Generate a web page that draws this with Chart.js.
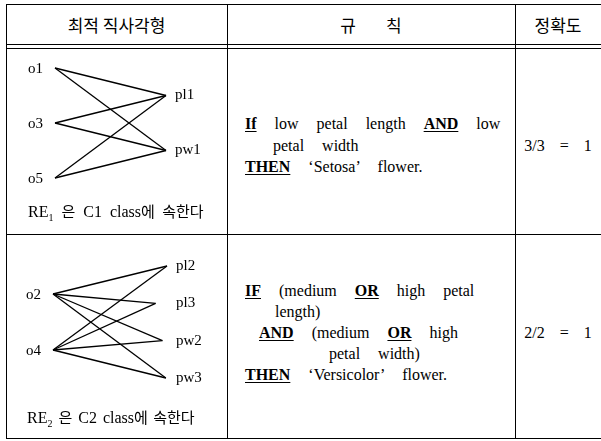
<!DOCTYPE html>
<html>
<head>
<meta charset="utf-8">
<script src="https://cdn.jsdelivr.net/npm/chart.js@4"></script>
<style>
  body { margin: 0; width: 601px; height: 441px; background: #fff; position: relative; overflow: hidden;
         font-family: "Liberation Serif", "Times New Roman", Times, "DejaVu Serif", serif; color: #000; }
  .line { position: absolute; background: #000; }
  .txt { position: absolute; white-space: pre; font-size: 16px; line-height: 20px; }
  .rule { word-spacing: 14px; }
  .k { font-family: "Noto Sans CJK KR", sans-serif; }
  .head { position: absolute; top: 14px; height: 22px; line-height: 22px; text-align: center;
          font-family: "Noto Sans CJK KR", sans-serif; font-size: 17px; }
  .kw { font-weight: bold; text-decoration: underline; text-underline-offset: 2px; }
  .acc { position: absolute; left: 515px; width: 86px; text-align: center; font-size: 16px; line-height: 20px; word-spacing: 11px; }
  canvas { position: absolute; }
</style>
</head>
<body>

<!-- table grid -->
<div class="line" style="left:6px;top:4px;width:595px;height:1px"></div>
<div class="line" style="left:6px;top:44px;width:595px;height:1px"></div>
<div class="line" style="left:6px;top:48px;width:595px;height:1px"></div>
<div class="line" style="left:6px;top:234px;width:595px;height:1px"></div>
<div class="line" style="left:6px;top:438px;width:595px;height:1px"></div>
<div class="line" style="left:6px;top:4px;width:1px;height:435px"></div>
<div class="line" style="left:227px;top:4px;width:1px;height:435px"></div>
<div class="line" style="left:515px;top:4px;width:1px;height:435px"></div>

<!-- header -->
<div class="head" style="left:6px;width:221px">최적 직사각형</div>
<div class="head" style="left:227px;width:288px"><span>규</span><span style="margin-left:30px">칙</span></div>
<div class="head" style="left:515px;width:86px">정확도</div>

<!-- graphs -->
<canvas id="g1" width="221" height="184" style="left:6px;top:49px"></canvas>
<canvas id="g2" width="221" height="200" style="left:6px;top:236px"></canvas>

<div class="txt" style="left:28px;top:201px;word-spacing:4px">RE<sub style="font-size:10px">1</sub> <span class="k" style="font-size:15px">은</span> C1 class<span class="k" style="font-size:15px">에 속한다</span></div>
<div class="txt" style="left:27px;top:407px;word-spacing:2px">RE<sub style="font-size:10px">2</sub> <span class="k" style="font-size:15px">은</span> C2 class<span class="k" style="font-size:15px">에 속한다</span></div>

<!-- rules -->
<div class="txt rule" style="left:245px;top:114px"><span class="kw">If</span> low petal length <span class="kw">AND</span> low</div>
<div class="txt rule" style="left:273px;top:136px">petal width</div>
<div class="txt rule" style="left:245px;top:157px"><span class="kw">THEN</span> ‘Setosa’ flower.</div>

<div class="txt rule" style="left:245px;top:281px"><span class="kw">IF</span> (medium <span class="kw">OR</span> high petal</div>
<div class="txt rule" style="left:275px;top:302px">length)</div>
<div class="txt rule" style="left:259px;top:323px"><span class="kw">AND</span> (medium <span class="kw">OR</span> high</div>
<div class="txt rule" style="left:329px;top:344px">petal width)</div>
<div class="txt rule" style="left:245px;top:365px"><span class="kw">THEN</span> ‘Versicolor’ flower.</div>

<div class="acc" style="top:136px">3/3 = 1</div>
<div class="acc" style="top:323px">2/2 = 1</div>

<script>
// ------------------------------------------------------------
// Graph data: objects on the left, attribute labels on the right.
// x = 0 (left column) / 1 (right column), y = rank down the column.
// ------------------------------------------------------------

// RE1 -> C1
const LEFT_1 = ["o1", "o3", "o5"];
const LEFT_1_Y = [0, 1, 2];
const RIGHT_1 = ["pl1", "pw1"];
const RIGHT_1_Y = [0.5, 1.5];
const RIGHT_1_X = [1, 1];
const EDGES_1 = [
  ["o1", "pl1"], ["o1", "pw1"],
  ["o3", "pl1"], ["o3", "pw1"],
  ["o5", "pl1"], ["o5", "pw1"],
];

// RE2 -> C2
const LEFT_2 = ["o2", "o4"];
const LEFT_2_Y = [0.75, 2.25];
const RIGHT_2 = ["pl2", "pl3", "pw2", "pw3"];
const RIGHT_2_Y = [0, 1, 2, 3];
const RIGHT_2_X = [1, 0.9, 0.96, 0.99];
const EDGES_2 = [
  ["o2", "pl2"], ["o2", "pl3"], ["o2", "pw2"], ["o2", "pw3"],
  ["o4", "pl2"], ["o4", "pl3"], ["o4", "pw2"], ["o4", "pw3"],
];

// Writes the node names next to the line ends
const nodeLabels = {
  id: "nodeLabels",
  afterDatasetsDraw(chart, args, opts) {
    const { ctx, scales } = chart;
    ctx.save();
    ctx.fillStyle = "#000";
    ctx.font = '15px "Liberation Serif", "Times New Roman", "DejaVu Serif", serif';
    ctx.textBaseline = "middle";

    ctx.textAlign = "right";
    opts.left.forEach((name, i) => {
      ctx.fillText(name, scales.x.getPixelForValue(0) - 12, scales.y.getPixelForValue(opts.leftY[i]) + 1);
    });

    ctx.textAlign = "left";
    opts.right.forEach((name, i) => {
      ctx.fillText(name, scales.x.getPixelForValue(1) + 9, scales.y.getPixelForValue(opts.rightY[i]));
    });
    ctx.restore();
  },
};

function drawGraph(canvasId, left, leftY, right, rightY, rightX, edges, yMax, padding) {
  // name -> point, so each edge can look up both ends
  const nodes = {};
  left.forEach((n, i) => { nodes[n] = { x: 0, y: leftY[i] }; });
  right.forEach((n, i) => { nodes[n] = { x: rightX[i], y: rightY[i] }; });

  const datasets = edges.map(([a, b]) => ({
    data: [nodes[a], nodes[b]],
    showLine: true,
    borderColor: "#000",
    borderWidth: 1.3,
    pointRadius: 0,
    clip: false,
  }));

  return new Chart(document.getElementById(canvasId), {
    type: "scatter",
    data: { datasets },
    options: {
      responsive: false,
      animation: false,
      events: [],
      layout: { padding },
      scales: {
        x: { type: "linear", min: 0, max: 1, display: false },
        y: { type: "linear", min: 0, max: yMax, reverse: true, display: false },
      },
      plugins: {
        legend: { display: false },
        tooltip: { enabled: false },
        nodeLabels: { left, leftY, right, rightY },
      },
    },
    plugins: [nodeLabels],
  });
}

drawGraph("g1", LEFT_1, LEFT_1_Y, RIGHT_1, RIGHT_1_Y, RIGHT_1_X, EDGES_1, 2,
  { left: 49, right: 61, top: 19, bottom: 55 });
drawGraph("g2", LEFT_2, LEFT_2_Y, RIGHT_2, RIGHT_2_Y, RIGHT_2_X, EDGES_2, 3,
  { left: 47, right: 60, top: 30, bottom: 58 });
</script>
</body>
</html>
